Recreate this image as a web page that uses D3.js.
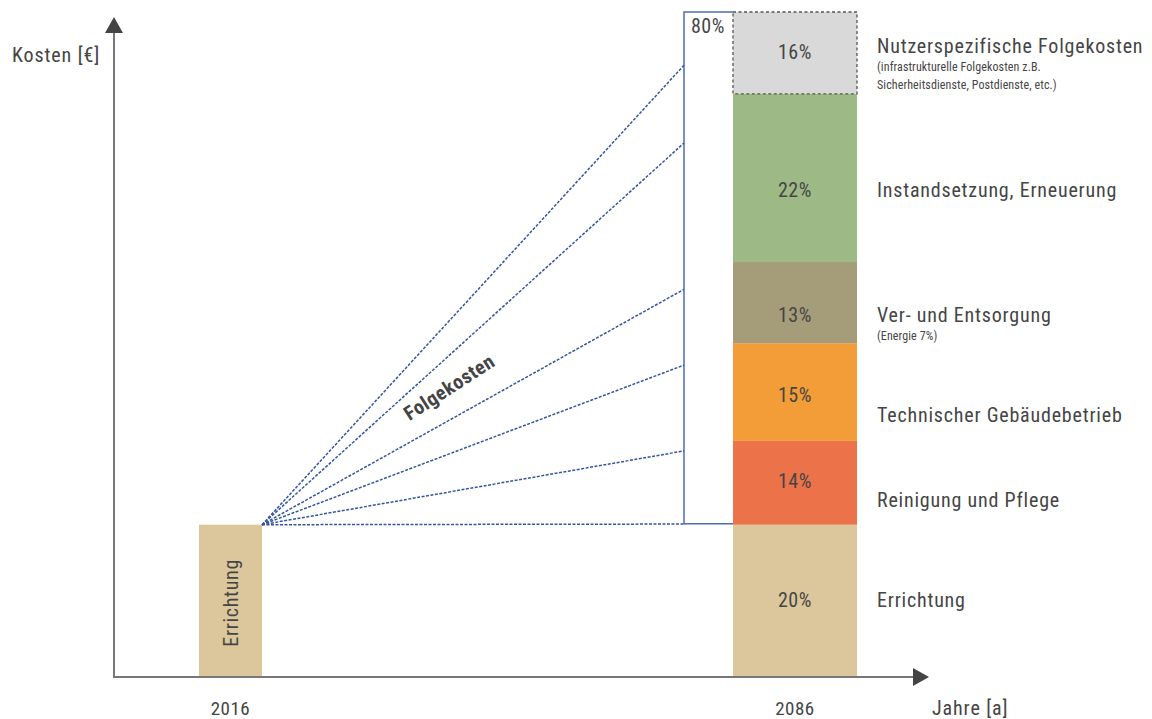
<!DOCTYPE html>
<html>
<head>
<meta charset="utf-8">
<script src="https://cdn.jsdelivr.net/npm/d3@7"></script>
<style>
  body { margin: 0; background: #fff; }
  text { font-family: "Liberation Sans Narrow", "Roboto Condensed", "Roboto", sans-serif; fill: #454545; }
</style>
</head>
<body>
<svg id="chart" width="1152" height="719"></svg>
<script>
// categories of the 2086 stack, bottom to top
const categories = ["Errichtung", "Reinigung und Pflege", "Technischer Gebäudebetrieb",
    "Ver- und Entsorgung", "Instandsetzung, Erneuerung", "Nutzerspezifische Folgekosten"];
const percentLabels = ["20%", "14%", "15%", "13%", "22%", "16%"];
// drawn height of each segment (share of the axis as pictured)
const drawnShare = [22.9, 12.6, 14.7, 12.2, 25.3, 12.3];
const subLabels = [[], [], [], ["(Energie 7%)"], [],
    ["(infrastrukturelle Folgekosten z.B.", "Sicherheitsdienste, Postdienste, etc.)"]];
const colors = ["#dcc79c", "#ec7249", "#f29d38", "#a59d7a", "#9dba86", "#d9d9d9"];
const years = [2016, 2086];
// end levels of the "Folgekosten" fan at the 80% box
const fanLevels = [92.0, 80.3, 58.3, 46.9, 34.0, 23.0];

const svg = d3.select("#chart");

const x = d3.scaleLinear().domain([2016, 2086]).range([230.5, 795]);
const y = d3.scaleLinear().domain([0, 100]).range([677, 12]);

const axisX0 = 114;

// stacked data
let acc = 0;
const stack = drawnShare.map((v, i) => {
    const d = { name: categories[i], pct: percentLabels[i], sub: subLabels[i], color: colors[i], y0: acc, y1: acc + v };
    acc += v;
    return d;
});

const errTop = stack[0].y1;

// 2016 bar
svg.append("rect")
    .attr("x", x(2016) - 31.5).attr("width", 63)
    .attr("y", y(errTop)).attr("height", y(0) - y(errTop))
    .attr("fill", colors[0]);

svg.append("text")
    .attr("transform", `translate(${x(2016) + 7},${(y(0) + y(errTop)) / 2 + 2}) rotate(-90)`)
    .attr("text-anchor", "middle")
    .style("font-size", "20px")
    .style("letter-spacing", "0.7px")
    .text("Errichtung");

// 2086 stacked bar
const barW = 124, barX = x(2086) - barW / 2;
const seg = svg.selectAll(".seg").data(stack).enter().append("g").attr("class", "seg");

seg.append("rect")
    .attr("x", barX).attr("width", barW)
    .attr("y", d => y(d.y1)).attr("height", d => y(d.y0) - y(d.y1))
    .attr("fill", d => d.color)
    .attr("stroke", (d, i) => i === stack.length - 1 ? "#555" : "none")
    .attr("stroke-width", 1.3)
    .attr("stroke-dasharray", "3,2.5");

// label rows (pixel rows as laid out in the figure)
const pctY = [600, 481, 395, 315, 190, 52];
const labelX = 877;
const labelY = [600, 500, 415, 315, 190, 46];

seg.append("text")
    .attr("x", x(2086))
    .attr("y", (d, i) => pctY[i])
    .attr("dy", "0.35em")
    .attr("text-anchor", "middle")
    .style("font-size", "20px")
    .style("letter-spacing", "0.6px")
    .text(d => d.pct);

seg.append("text")
    .attr("x", labelX)
    .attr("y", (d, i) => labelY[i])
    .attr("dy", "0.35em")
    .style("font-size", "20px")
    .style("letter-spacing", "0.8px")
    .text(d => d.name);

seg.each(function (d, i) {
    d3.select(this).selectAll(".sub").data(d.sub).enter().append("text")
        .attr("x", labelX)
        .attr("y", (s, j) => labelY[i] + 21 + j * 18)
        .attr("dy", "0.35em")
        .style("font-size", "12px")
        .style("letter-spacing", "0.1px")
        .text(s => s);
});

// 80% box
const boxL = 684;
svg.append("path")
    .attr("d", `M${barX},${y(errTop) - 1}H${boxL}V${y(100)}H${barX}`)
    .attr("fill", "none")
    .attr("stroke", "#4f6db0")
    .attr("stroke-width", 1.5);

svg.append("text")
    .attr("x", boxL + 24).attr("y", y(100) + 21)
    .attr("text-anchor", "middle")
    .style("font-size", "20px")
    .style("letter-spacing", "0.6px")
    .text("80%");

// fan lines
const ox = x(2016) + 31.5, oy = y(errTop);
svg.selectAll(".fan").data(fanLevels).enter().append("line")
    .attr("x1", ox).attr("y1", oy)
    .attr("x2", boxL).attr("y2", d => y(d))
    .attr("stroke", "#34569f")
    .attr("stroke-width", 1.5)
    .attr("stroke-dasharray", "3,1.5");

svg.append("text")
    .attr("transform", "translate(453,393) rotate(-33)")
    .attr("text-anchor", "middle")
    .style("font-size", "20px")
    .style("font-weight", "bold")
    .style("letter-spacing", "0.5px")
    .text("Folgekosten");

// axes
svg.append("line")
    .attr("x1", axisX0).attr("y1", y(0))
    .attr("x2", axisX0).attr("y2", 32)
    .attr("stroke", "#777").attr("stroke-width", 2);
svg.append("path")
    .attr("d", `M${axisX0},17L${axisX0 - 9},33L${axisX0 + 9},33Z`)
    .attr("fill", "#444");

svg.append("line")
    .attr("x1", axisX0 - 1).attr("y1", y(0))
    .attr("x2", 913).attr("y2", y(0))
    .attr("stroke", "#777").attr("stroke-width", 2);
svg.append("path")
    .attr("d", `M929,${y(0)}L913,${y(0) - 9}L913,${y(0) + 9}Z`)
    .attr("fill", "#444");

svg.selectAll(".year").data(years).enter().append("text")
    .attr("x", d => x(d))
    .attr("y", 708)
    .attr("dy", "0.35em")
    .attr("text-anchor", "middle")
    .style("font-size", "19px")
    .style("letter-spacing", "0.5px")
    .text(d => d);

svg.append("text")
    .attr("x", 932).attr("y", 708).attr("dy", "0.35em")
    .style("font-size", "20px")
    .style("letter-spacing", "0.9px")
    .text("Jahre [a]");

svg.append("text")
    .attr("x", 12).attr("y", 55).attr("dy", "0.35em")
    .style("font-size", "20px")
    .style("letter-spacing", "0.9px")
    .text("Kosten [€]");
</script>
</body>
</html>
